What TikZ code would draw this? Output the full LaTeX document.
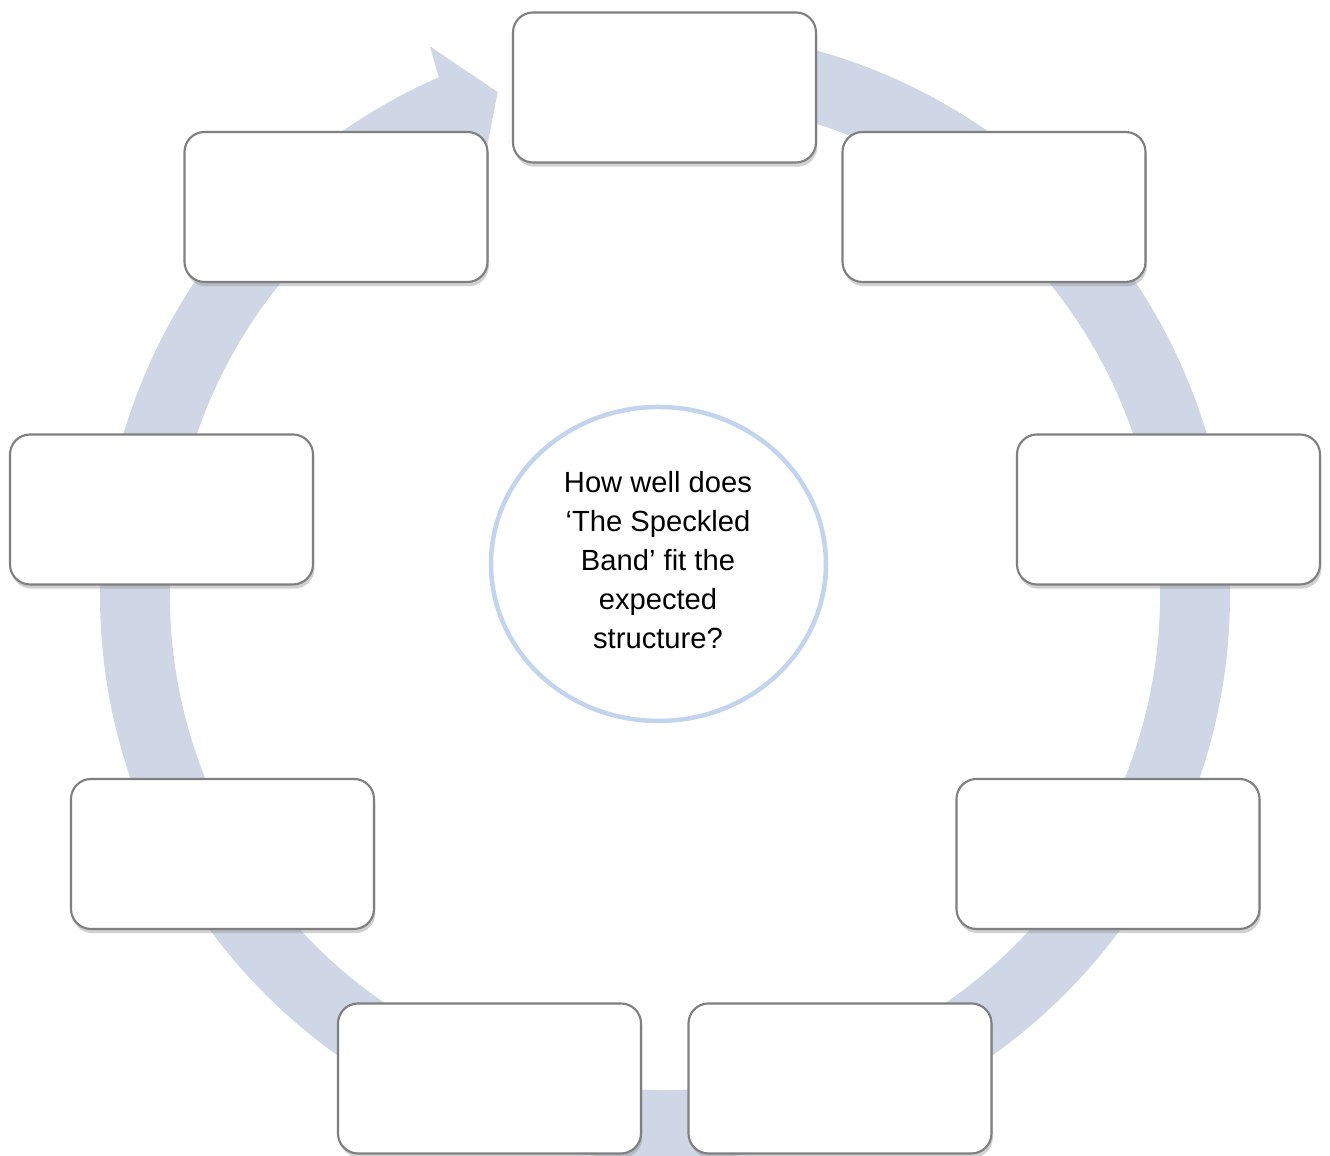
\documentclass[tikz,border=0pt]{standalone}
\usepackage{fontspec}
\setmainfont{Liberation Sans}
\usetikzlibrary{calc}
\usetikzlibrary{shadows}
\usetikzlibrary{shapes.geometric}

\definecolor{ringcol}{HTML}{CFD7E7}
\definecolor{rimcol}{HTML}{C3D4EE}
\definecolor{edgecol}{HTML}{7F7F7F}

\tikzset{
  stagebox/.style={draw=edgecol, line width=0.6pt, fill=white, rounded corners=0.2cm,
    minimum width=3.03cm, minimum height=1.5cm, inner sep=0pt,
    drop shadow={shadow xshift=0.4pt, shadow yshift=-1.2pt, fill=black!45, opacity=0.4}},
  hubtext/.style={ellipse, draw=rimcol, line width=0.045cm, fill=white,
    minimum width=3.35cm, minimum height=3.14cm, inner sep=0pt, align=center,
    font=\fontsize{8.3}{11.1}\selectfont}
}

\begin{document}
\begin{tikzpicture}
\useasboundingbox (0,0) rectangle (13.3,11.56);

\coordinate (hub) at (6.65,5.61);

% ring with arrow head
\fill[ringcol] ($(hub)+(90:5.65)$) arc[start angle=90, end angle=-246.4, radius=5.65]
  -- ($(hub)+(113.2:5.97)$) -- ($(hub)+(108.4:5.30)$) -- ($(hub)+(113.2:4.63)$)
  -- ($(hub)+(113.6:4.95)$) arc[start angle=113.6, end angle=450, radius=4.95] -- cycle;

\foreach \nm/\px/\py in {top/6.645/10.685, topr/9.94/9.49, rgt/11.685/6.465, botr/11.08/3.02,
  bcr/8.40/0.775, bcl/4.895/0.775, botl/2.225/3.02, lft/1.615/6.465, topl/3.36/9.49}
\node[stagebox] (\nm) at (\px,\py) {};

\node[hubtext] (question) at (6.585,5.92) {};
\node[font=\fontsize{8.3}{11.1}\selectfont, align=center, inner sep=0pt] (qtext) at (6.58,5.96)
  {How well does\\‘The Speckled\\Band’ fit the\\expected\\structure?};

\end{tikzpicture}
\end{document}
